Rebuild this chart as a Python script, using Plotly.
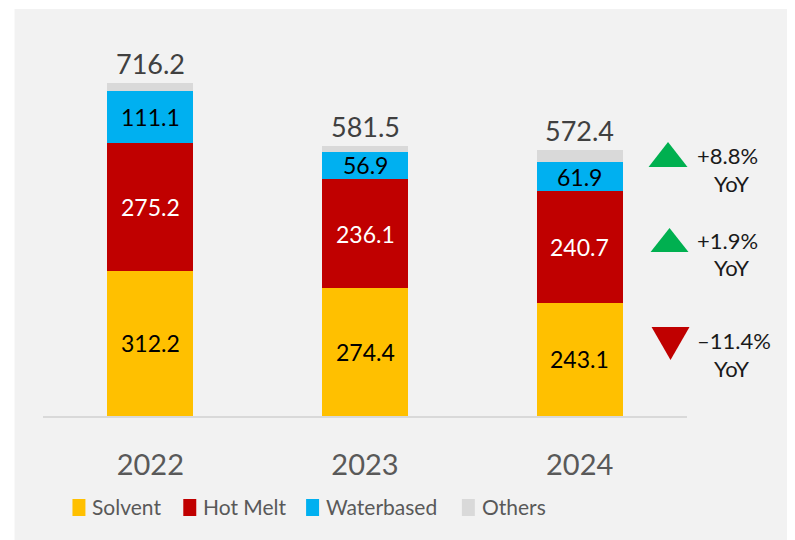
import plotly.graph_objects as go

# ---------------- data ----------------
years = ["2022", "2023", "2024"]
solvent = [312.2, 274.4, 243.1]
hot_melt = [275.2, 236.1, 240.7]
waterbased = [111.1, 56.9, 61.9]
others = [17.7, 14.1, 26.7]
totals = [716.2, 581.5, 572.4]
series_names = ["Solvent", "Hot Melt", "Waterbased", "Others"]
yoy_labels = ["+8.8%", "+1.9%", "–11.4%"]
yoy_up = [True, True, False]

# ---------------- style ----------------
colors = ["#FFC000", "#C00000", "#00B0F0", "#D9D9D9"]
label_colors = ["#000000", "#FFFFFF", "#000000", None]
FONT = "Lato"
OFF = 8  # page body margin
W, H = 787, 532
ML, MT, MB = 34.5, 32, 124
PW = 645
MR = W - ML - PW
PH = H - MT - MB
YMAX = 808.6


def px(x):
    return (x - OFF - ML) / PW


def py(y):
    return (H - MB - (y - OFF)) / PH


series = [solvent, hot_melt, waterbased, others]
xs = list(range(len(years)))

fig = go.Figure()
for name, vals, col in zip(series_names, series, colors):
    fig.add_trace(go.Bar(x=xs, y=vals, name=name, marker=dict(color=col, line=dict(width=0)),
                         width=0.4, showlegend=False, hoverinfo="x+y+name"))

annotations = []
# segment labels
for i in xs:
    base = 0
    for vals, lc in zip(series, label_colors):
        v = vals[i]
        if lc is not None:
            annotations.append(dict(x=i, y=base + v / 2, xref="x", yref="y", text=f"{v:.1f}",
                                    showarrow=False, font=dict(family=FONT, size=23, color=lc)))
        base += v
    annotations.append(dict(x=i, y=totals[i], xref="x", yref="y", text=f"{totals[i]:.1f}",
                            showarrow=False, yanchor="bottom", yshift=1,
                            font=dict(family=FONT, size=27, color="#404040")))

shapes = [
    dict(type="rect", xref="paper", yref="paper", x0=px(14), x1=px(788), y0=py(545), y1=py(9),
         fillcolor="#F2F2F2", line=dict(width=0), layer="below"),
]

# custom legend
leg_x = [72, 183, 306, 462]
for name, col, lx in zip(series_names, colors, leg_x):
    shapes.append(dict(type="rect", xref="paper", yref="paper", x0=px(lx), x1=px(lx + 13),
                       y0=py(516), y1=py(499), fillcolor=col, line=dict(width=0)))
    annotations.append(dict(x=px(lx + 18), y=py(506), xref="paper", yref="paper", text=name,
                            showarrow=False, xanchor="left", yanchor="middle",
                            font=dict(family=FONT, size=21, color="#595959")))

# YoY markers
tri_rows = [(142, 167), (228, 252), (327, 360)]
tri_x = [(649, 688), (651, 689), (652, 690)]
text_y = [(155, 183), (240, 267), (340, 368)]
for lab, up, (y0, y1), (x0, x1), (ty1, ty2) in zip(yoy_labels, yoy_up, tri_rows, tri_x, text_y):
    xm = (x0 + x1) / 2
    if up:
        path = f"M {px(x0)},{py(y1)} L {px(x1)},{py(y1)} L {px(xm)},{py(y0)} Z"
        col = "#00B050"
    else:
        path = f"M {px(x0)},{py(y0)} L {px(x1)},{py(y0)} L {px(xm)},{py(y1)} Z"
        col = "#C00000"
    shapes.append(dict(type="path", xref="paper", yref="paper", path=path,
                       fillcolor=col, line=dict(width=0)))
    annotations.append(dict(x=px(696), y=py(ty1), xref="paper", yref="paper", text=lab,
                            showarrow=False, xanchor="left", yanchor="middle",
                            font=dict(family=FONT, size=22, color="#1A1A1A")))
    annotations.append(dict(x=px(732), y=py(ty2), xref="paper", yref="paper", text="YoY",
                            showarrow=False, xanchor="center", yanchor="middle",
                            font=dict(family=FONT, size=22, color="#1A1A1A")))

fig.update_layout(
    barmode="stack",
    width=W, height=H,
    margin=dict(l=ML, r=MR, t=MT, b=MB, pad=0),
    paper_bgcolor="#FFFFFF",
    plot_bgcolor="rgba(0,0,0,0)",
    shapes=shapes,
    annotations=annotations,
    showlegend=False,
    font=dict(family=FONT),
)
fig.update_xaxes(range=[-0.5, 2.5], tickmode="array", tickvals=xs, ticktext=years,
                 showline=True, linecolor="#D9D9D9", linewidth=2, showgrid=False, zeroline=False,
                 ticks="", tickfont=dict(family=FONT, size=29, color="#595959"),
                 ticklabelstandoff=22, fixedrange=True)
fig.update_yaxes(range=[0, YMAX], visible=False, showgrid=False, fixedrange=True)

fig.write_html("out.html")
